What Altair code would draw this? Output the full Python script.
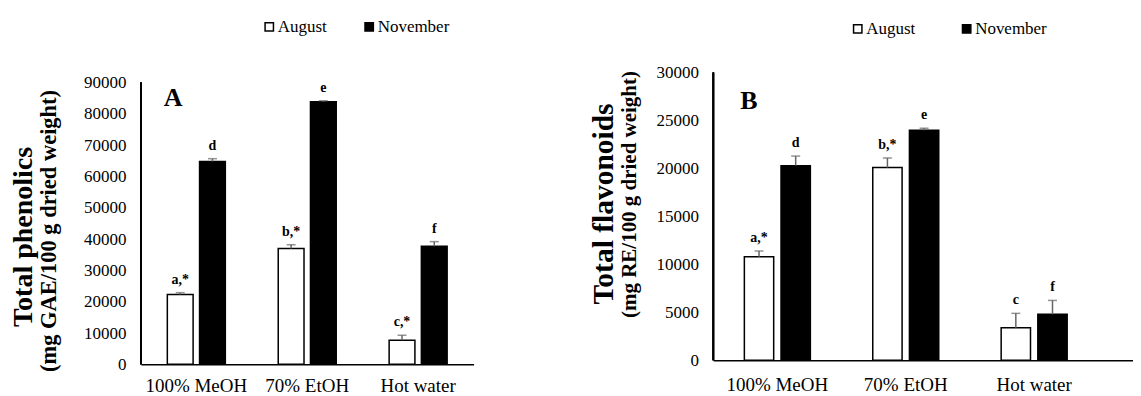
import altair as alt
import pandas as pd

categories = ["100% MeOH", "70% EtOH", "Hot water"]
seasons = ["August", "November"]

# Panel A: total phenolics
phen_aug = [22300, 37000, 7700]
phen_aug_err = [600, 1200, 1600]
phen_nov = [64800, 83900, 37700]
phen_nov_err = [900, 300, 1500]
phen_aug_lbl = ["a,*", "b,*", "c,*"]
phen_nov_lbl = ["d", "e", "f"]
phen_ticks = [0, 10000, 20000, 30000, 40000, 50000, 60000, 70000, 80000, 90000]

# Panel B: total flavonoids
flav_aug = [10800, 20100, 3400]
flav_aug_err = [600, 1000, 1500]
flav_nov = [20300, 24000, 4800]
flav_nov_err = [1000, 200, 1450]
flav_aug_lbl = ["a,*", "b,*", "c"]
flav_nov_lbl = ["d", "e", "f"]
flav_ticks = [0, 5000, 10000, 15000, 20000, 25000, 30000]

FONT = "Liberation Serif"


def make_df(aug, aug_err, nov, nov_err, aug_lbl, nov_lbl):
    rows = []
    for i, c in enumerate(categories):
        rows.append(dict(cat=c, season="August", value=aug[i], err=aug_err[i], lbl=aug_lbl[i]))
        rows.append(dict(cat=c, season="November", value=nov[i], err=nov_err[i], lbl=nov_lbl[i]))
    return pd.DataFrame(rows)


def panel(df, ymax, ticks, width, height, extra, pI, pO, align, letter, letter_pos,
          title, title_pos, title_size, subtitle, subtitle_pos, subtitle_size,
          legend_pos, col_pad, lbl_off, xlabel_pad):
    # extra: blank pixels above the top of the value axis
    dom_top = ymax * (height + extra) / height
    x = alt.X("cat:N", sort=categories,
              scale=alt.Scale(paddingInner=pI, paddingOuter=pO, align=align),
              axis=alt.Axis(title=None, labelAngle=0, labelFont=FONT, labelFontSize=19,
                            labelColor="black", labelPadding=xlabel_pad, ticks=False, tickSize=0,
                            labelOverlap=False,
                            domainColor="black", domainWidth=1.5))
    xo = alt.XOffset("season:N", sort=seasons, scale=alt.Scale(paddingInner=0.2))
    yaxis = alt.Axis(title=None, values=ticks, format="d", grid=False, ticks=False,
                     tickSize=0, labelFont=FONT, labelFontSize=17, labelColor="black",
                     labelOverlap=False, labelFlush=False, domain=False, labelPadding=15)
    yscale = alt.Scale(domain=[0, dom_top], nice=False, zero=True)
    base = alt.Chart(df).transform_calculate(top="datum.value + datum.err")
    bars = base.mark_bar(stroke="black", strokeWidth=1.5).encode(
        x=x, xOffset=xo, y=alt.Y("value:Q", scale=yscale, axis=yaxis),
        fill=alt.Fill("season:N", sort=seasons,
                      scale=alt.Scale(domain=seasons, range=["white", "black"]),
                      legend=alt.Legend(orient="none", legendX=legend_pos[0], legendY=legend_pos[1],
                                        direction="horizontal", title=None, symbolType="square",
                                        symbolSize=70, symbolStrokeColor="black",
                                        symbolStrokeWidth=1.5, labelFont=FONT, labelFontSize=17,
                                        labelColor="black", labelOffset=lbl_off,
                                        columnPadding=col_pad, padding=0)))
    yaxis_line = base.mark_rule(color="black", strokeWidth=1.5).encode(
        x=alt.value(0), y=alt.Y(datum=0, axis=yaxis), y2=alt.Y2(datum=ymax))
    err = base.mark_rule(color="#666666", strokeWidth=1.5).encode(
        x=x, xOffset=xo, y=alt.Y("value:Q", axis=yaxis), y2="top:Q")
    cap = base.mark_tick(color="#666666", thickness=1.5, size=9, orient="horizontal").encode(
        x=x, xOffset=xo, y=alt.Y("top:Q", axis=yaxis))
    lbl = base.mark_text(font=FONT, fontSize=14, fontWeight="bold", baseline="alphabetic",
                         dy=-9, color="black").encode(
        x=x, xOffset=xo, y=alt.Y("top:Q", axis=yaxis), text="lbl:N")
    let = alt.Chart(pd.DataFrame({"t": [letter]})).mark_text(
        font=FONT, fontSize=26, fontWeight="bold", align="left", baseline="alphabetic",
        color="black").encode(x=alt.value(letter_pos[0]), y=alt.value(letter_pos[1]), text="t:N")
    tt = alt.Chart(pd.DataFrame({"t": [title]})).mark_text(
        font=FONT, fontSize=title_size, fontWeight="bold", angle=270, align="center",
        baseline="alphabetic", color="black").encode(
        x=alt.value(title_pos[0]), y=alt.value(title_pos[1]), text="t:N")
    st = alt.Chart(pd.DataFrame({"t": [subtitle]})).mark_text(
        font=FONT, fontSize=subtitle_size, fontWeight="bold", angle=270, align="center",
        baseline="alphabetic", color="black").encode(
        x=alt.value(subtitle_pos[0]), y=alt.value(subtitle_pos[1]), text="t:N")
    return alt.layer(bars, yaxis_line, err, cap, lbl, let, tt, st).properties(
        width=width, height=height + extra)


df_a = make_df(phen_aug, phen_aug_err, phen_nov, phen_nov_err, phen_aug_lbl, phen_nov_lbl)
df_b = make_df(flav_aug, flav_aug_err, flav_nov, flav_nov_err, flav_aug_lbl, flav_nov_lbl)

left = panel(df_a, 90000, phen_ticks, 333, 282, 10, 0.477, 0.2385, 0.5, "A", (23, 33),
             "Total phenolics", (-109, 164.5), 28,
             "(mg GAE/100 g dried weight)", (-85, 158.5), 22.5,
             (120, -54.5), 33, 0, 12)
right = panel(df_b, 30000, flav_ticks, 420, 288, 0, 0.486, 0.377, 0.32, "B", (27, 36),
              "Total flavonoids", (-100, 131.5), 29.5,
              "(mg RE/100 g dried weight)", (-77, 122), 21,
              (136, -52.5), 42, 0, 15)

chart = alt.concat(left, right, columns=2, spacing=116, align="none").resolve_scale(
    x="independent", y="independent", fill="independent", xOffset="independent"
).resolve_legend(fill="independent").properties(
    padding={"left": 2, "top": 9.5, "right": 0, "bottom": 0}
).configure(font=FONT).configure_axis(labelOverlap=False).configure_view(stroke=None)

chart.save("out.html", embed_options={"renderer": "svg", "actions": False})
